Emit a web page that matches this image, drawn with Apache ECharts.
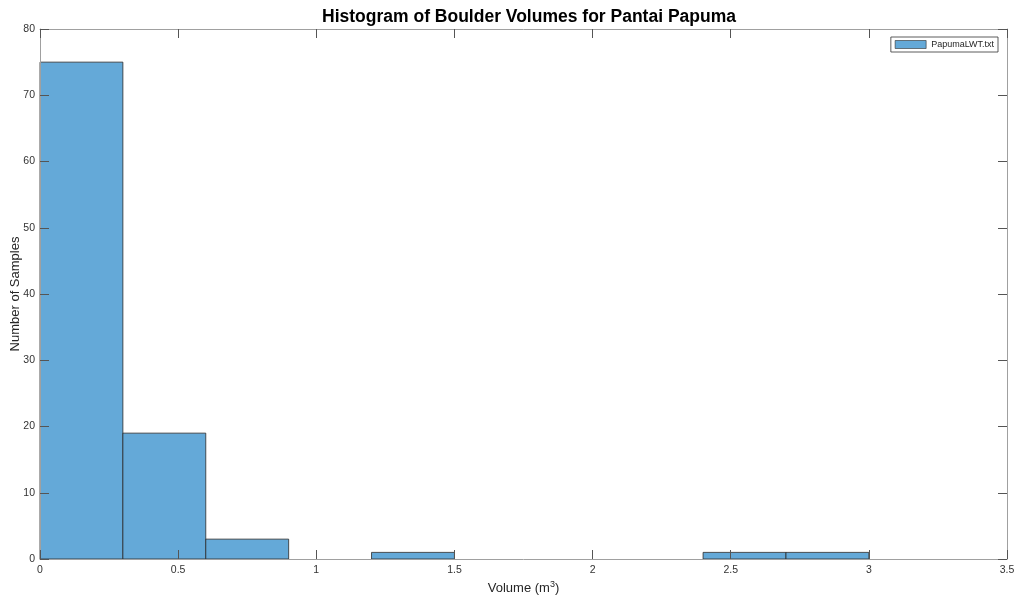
<!DOCTYPE html>
<html>
<head>
<meta charset="utf-8">
<script src="https://cdn.jsdelivr.net/npm/echarts@6/dist/echarts.min.js"></script>
<style>html,body{margin:0;padding:0;background:#fff;}#c{width:1014px;height:599px;}</style>
</head>
<body>
<div id="c"></div>
<script>
var binEdges = [0, 0.3, 0.6, 0.9, 1.2, 1.5, 1.8, 2.1, 2.4, 2.7, 3.0];
var counts = [75, 19, 3, 0, 1, 0, 0, 0, 1, 1];
var xTicks = [0, 0.5, 1, 1.5, 2, 2.5, 3, 3.5];
var yTicks = [0, 10, 20, 30, 40, 50, 60, 70, 80];
var seriesName = 'PapumaLWT.txt';
var titleText = 'Histogram of Boulder Volumes for Pantai Papuma';

var data = [];
for (var i = 0; i < counts.length; i++) {
  if (counts[i] > 0) data.push([binEdges[i], binEdges[i + 1], counts[i]]);
}
var font = '"Liberation Sans", Arial, Helvetica, sans-serif';
var axisCol = '#262626';
var labelCol = '#333333';
var lineCol = '#a0a0a0';
var fillCol = '#64A9D8';
var edgeCol = '#2a2a2a';

function tickAxis(extra) {
  var base = {
    type: 'value',
    nameMoveOverlap: false,
    z: 5,
    axisLine: { show: true, onZero: false, lineStyle: { color: lineCol, width: 1 } },
    axisTick: { show: true, inside: true, length: 9, lineStyle: { color: '#555', width: 1 } },
    splitLine: { show: false }
  };
  for (var k in extra) base[k] = extra[k];
  return base;
}

var chart = echarts.init(document.getElementById('c'));
chart.setOption({
  animation: false,
  textStyle: { fontFamily: font },
  title: {
    text: titleText, left: 524, top: 3, textAlign: 'center',
    textStyle: { fontSize: 17.5, fontWeight: 'bold', color: '#000', fontFamily: font }
  },
  legend: {
    right: 16, top: 37, orient: 'vertical',
    data: [{ name: seriesName, icon: 'rect' }],
    itemWidth: 31, itemHeight: 8, itemGap: 4,
    itemStyle: { color: fillCol, borderColor: edgeCol, borderWidth: 0.6 },
    borderColor: '#333', borderWidth: 0.8, padding: [3, 4, 3, 4],
    backgroundColor: '#fff',
    textStyle: { fontSize: 9, color: '#262626', fontFamily: font }
  },
  grid: { left: 40, right: 7, top: 29, bottom: 40, containLabel: false, outerBoundsMode: 'none' },
  xAxis: [
    tickAxis({
      min: 0, max: 3.5, interval: 0.5, position: 'bottom',
      name: 'Volume (m{sup|3})', nameLocation: 'middle', nameGap: 21,
      nameTextStyle: { fontSize: 13, color: axisCol, fontFamily: font, verticalAlign: 'top',
        rich: { sup: { fontSize: 9, verticalAlign: 'bottom', padding: [0, 0, 8, 0], color: axisCol, fontFamily: font } } },
      axisLabel: { fontSize: 10.5, color: labelCol, margin: 6, fontFamily: font }
    }),
    tickAxis({ min: 0, max: 3.5, interval: 0.5, position: 'top', axisLabel: { show: false } })
  ],
  yAxis: [
    tickAxis({
      min: 0, max: 80, interval: 10, position: 'left',
      name: 'Number of Samples', nameLocation: 'middle', nameGap: 18,
      nameTextStyle: { fontSize: 13, color: axisCol, fontFamily: font },
      axisLabel: { fontSize: 10.5, color: labelCol, margin: 5, fontFamily: font }
    }),
    tickAxis({ min: 0, max: 80, interval: 10, position: 'right', axisLabel: { show: false } })
  ],
  series: [{
    name: seriesName,
    type: 'custom',
    xAxisIndex: 0, yAxisIndex: 0,
    itemStyle: { color: fillCol, borderColor: edgeCol, borderWidth: 0.8 },
    encode: { x: [0, 1], y: 2 },
    renderItem: function (params, api) {
      var p0 = api.coord([api.value(0), 0]);
      var p1 = api.coord([api.value(1), api.value(2)]);
      return {
        type: 'rect',
        shape: { x: p0[0], y: p1[1], width: p1[0] - p0[0], height: p0[1] - p1[1] },
        style: { fill: fillCol, stroke: edgeCol, lineWidth: 0.8 }
      };
    },
    data: data,
    z: 1
  }, {
    name: 'frame',
    type: 'line',
    xAxisIndex: 1, yAxisIndex: 1,
    data: [],
    silent: true
  }]
});
</script>
</body>
</html>
